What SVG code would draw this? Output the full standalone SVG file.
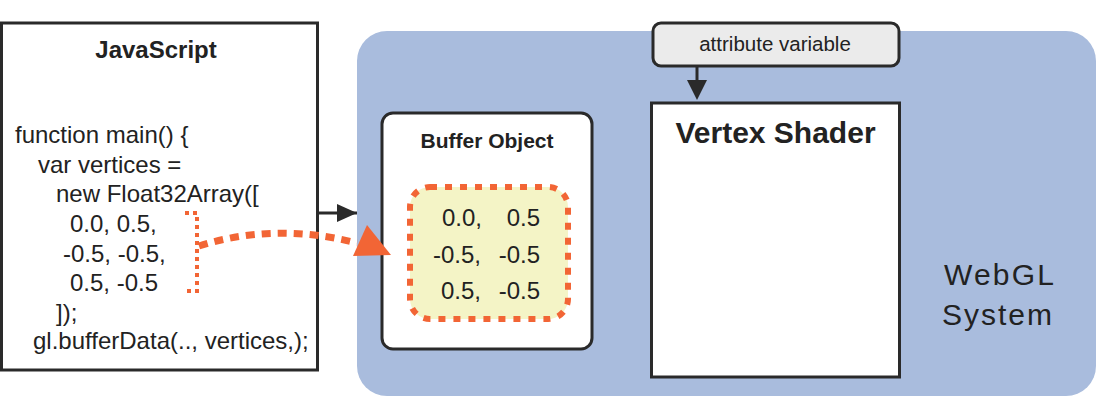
<svg xmlns="http://www.w3.org/2000/svg" width="1103" height="411" viewBox="0 0 1103 411">
<style>
  .box { stroke: #2a2a2a; stroke-width: 3; }
  .t { font-family: "Liberation Sans", Arial, sans-serif; fill: #222; }
  .b { font-weight: bold; }
  .code { font-size: 24px; }
  .orange { stroke: #f26535; fill: none; }
</style>
<defs>
  <marker id="ah" markerWidth="10" markerHeight="10" refX="9" refY="5" orient="auto" markerUnits="userSpaceOnUse" viewBox="0 0 10 10">
    <path d="M0,0 L10,5 L0,10 Z" fill="#2a2a2a"/>
  </marker>
</defs>
<rect width="1103" height="411" fill="#ffffff"/>
<g id="webgl-system">
  <rect x="357" y="31" width="739" height="365" rx="30" fill="#a9bcdd"/>
  <text class="t" x="1000" y="285" font-size="30" text-anchor="middle" letter-spacing="2.2">WebGL</text>
  <text class="t" x="998" y="325" font-size="30" text-anchor="middle" letter-spacing="2">System</text>
</g>
<g id="javascript">
  <rect class="box" x="1.5" y="23" width="316" height="347" fill="#ffffff"/>
  <text class="t b" x="156" y="58" font-size="24" text-anchor="middle">JavaScript</text>
  <text class="t code" x="15" y="143">function main() {</text>
  <text class="t code" x="38" y="173">var vertices =</text>
  <text class="t code" x="56" y="202">new Float32Array([</text>
  <text class="t code" x="70" y="232">0.0, 0.5,</text>
  <text class="t code" x="63" y="262">-0.5, -0.5,</text>
  <text class="t code" x="70" y="291">0.5, -0.5</text>
  <text class="t code" x="56" y="321">]);</text>
  <text class="t code" x="33" y="349">gl.bufferData(.., vertices,);</text>
</g>
<g id="buffer-object">
  <rect class="box" x="382" y="113" width="210" height="236" rx="11" fill="#ffffff"/>
  <text class="t b" x="487" y="148" font-size="21" text-anchor="middle">Buffer Object</text>
  <rect x="410" y="187" width="158" height="132" rx="20" fill="#f4f4c6" stroke="#f26535" stroke-width="6" stroke-dasharray="7 8"/>
  <text class="t" x="482" y="226" font-size="24" text-anchor="end">0.0,</text>
  <text class="t" x="540" y="226" font-size="24" text-anchor="end">0.5</text>
  <text class="t" x="481" y="263" font-size="24" text-anchor="end">-0.5,</text>
  <text class="t" x="540" y="263" font-size="24" text-anchor="end">-0.5</text>
  <text class="t" x="481" y="299" font-size="24" text-anchor="end">0.5,</text>
  <text class="t" x="540" y="299" font-size="24" text-anchor="end">-0.5</text>
</g>
<g id="attribute-variable">
  <rect class="box" x="653" y="23" width="246" height="43" rx="8" fill="#ebebeb"/>
  <text class="t" x="775" y="51" font-size="20.5" text-anchor="middle">attribute variable</text>
</g>
<g id="vertex-shader">
  <rect class="box" x="651.5" y="103" width="248" height="274" fill="#ffffff"/>
  <text class="t b" x="775.5" y="143" font-size="30" text-anchor="middle">Vertex Shader</text>
</g>
<g id="connectors">
  <line x1="318" y1="213" x2="357" y2="213" stroke="#2a2a2a" stroke-width="3"/>
  <path d="M337,204 L357,213 L337,222 Z" fill="#2a2a2a"/>
  <line x1="697" y1="66" x2="697" y2="82" stroke="#2a2a2a" stroke-width="3"/>
  <path d="M687,80 L707,80 L697,100 Z" fill="#2a2a2a"/>
  <path class="orange" d="M185,213 H197 V291 H185" stroke-width="4" stroke-dasharray="4 4"/>
  <path class="orange" d="M199,246 Q275,222 357,243" stroke-width="7" stroke-dasharray="9 7"/>
  <path d="M367,225 L353,256 L391,255 Z" fill="#f26535"/>
</g>
</svg>
